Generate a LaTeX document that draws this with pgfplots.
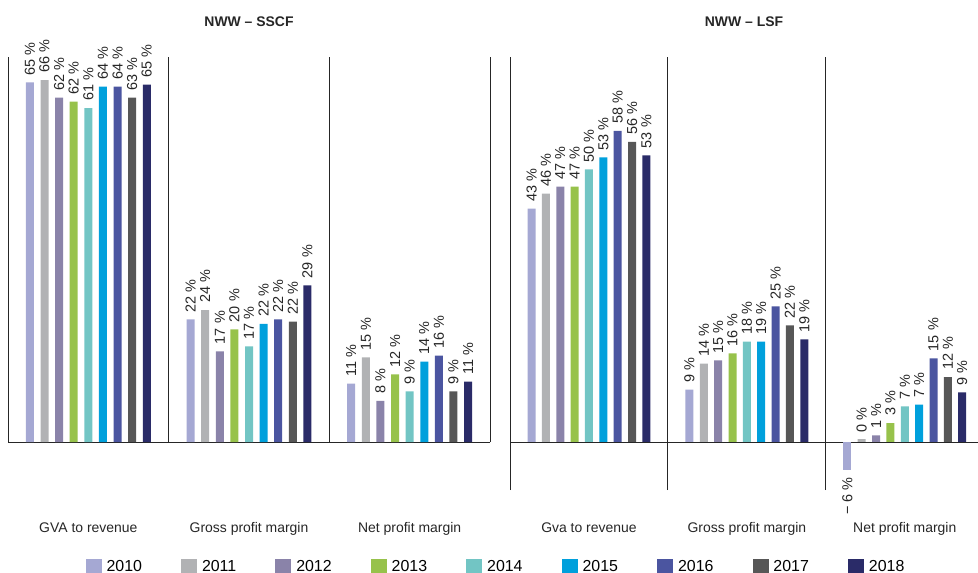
\documentclass[border=0pt]{standalone}
\usepackage{fontspec}
\setmainfont{Liberation Sans}
\usepackage{pgfplots}
\pgfplotsset{compat=1.18}

\definecolor{c2010}{HTML}{A5A8D3}
\definecolor{c2011}{HTML}{B1B2B4}
\definecolor{c2012}{HTML}{8A83A9}
\definecolor{c2013}{HTML}{97C24B}
\definecolor{c2014}{HTML}{72C5C4}
\definecolor{c2015}{HTML}{00A0DC}
\definecolor{c2016}{HTML}{4B55A0}
\definecolor{c2017}{HTML}{575757}
\definecolor{c2018}{HTML}{2A2B68}
\newcommand\vfont{\fontsize{14.5}{16}\selectfont}
\newcommand\tfont{\fontsize{14}{16}\selectfont}
\newcommand\lfont{\fontsize{16}{18}\selectfont}

\pgfplotsset{
  yr/.style={ybar, bar width=8bp, bar shift=0pt, fill=#1, draw=none,
    legend image code/.code={\fill[##1] (0bp,-8bp) rectangle (16bp,8bp);},
    every node near coord/.append style={rotate=90, anchor=west, font=\vfont,
      text=black!85, inner xsep=7bp, inner ysep=2pt}},
  panel/.style={scale only axis, anchor=south west, clip=false,
    axis line style={draw=none}, tick style={draw=none}, ytick=\empty,
    xtick={5.5,16.5,27.5},
    extra x ticks={0,11,22,33}, extra x tick labels={}, extra x tick style={grid=major},
    extra y ticks={0}, extra y tick labels={}, extra y tick style={grid=major},
    grid style={black!85, line width=0.9pt},
    tick label style={font=\tfont, text=black!85},
    title style={font=\tfont\bfseries, text=black!85},
    nodes near coords, point meta=explicit symbolic},
}

\begin{document}
\begin{tikzpicture}
\useasboundingbox (0,0) rectangle (978bp,573bp);
% NWW - SSCF
\begin{axis}[panel, at={(8bp,131bp)}, width=482bp, height=385bp,
  xmin=0, xmax=33, ymin=0, ymax=70,
  title={NWW – SSCF}, title style={yshift=21bp},
  xticklabels={GVA to revenue, Gross profit margin, Net profit margin},
  xticklabel style={yshift=-77bp},
  legend columns=9,
  legend style={at={(1.0124,-0.324)}, anchor=center, draw=none, fill=none, font=\lfont,
    /tikz/every odd column/.append style={column sep=3bp},
    /tikz/every even column/.append style={column sep=37bp}}]
\addplot[yr=c2010] coordinates {(1.5,65.4) [65 \%] (12.5,22.3) [22 \%] (23.5,10.6) [11 \%]};
\addlegendentry{2010}
\addplot[yr=c2011] coordinates {(2.5,65.8) [66 \%] (13.5,24.0) [24 \%] (24.5,15.4) [15 \%]};
\addlegendentry{2011}
\addplot[yr=c2012] coordinates {(3.5,62.6) [62 \%] (14.5,16.5) [17 \%] (25.5,7.5) [8 \%]};
\addlegendentry{2012}
\addplot[yr=c2013] coordinates {(4.5,61.9) [62 \%] (15.5,20.5) [20 \%] (26.5,12.3) [12 \%]};
\addlegendentry{2013}
\addplot[yr=c2014] coordinates {(5.5,60.7) [61 \%] (16.5,17.4) [17 \%] (27.5,9.2) [9 \%]};
\addlegendentry{2014}
\addplot[yr=c2015] coordinates {(6.5,64.6) [64 \%] (17.5,21.5) [22 \%] (28.5,14.6) [14 \%]};
\addlegendentry{2015}
\addplot[yr=c2016] coordinates {(7.5,64.6) [64 \%] (18.5,22.3) [22 \%] (29.5,15.7) [16 \%]};
\addlegendentry{2016}
\addplot[yr=c2017] coordinates {(8.5,62.6) [63 \%] (19.5,21.9) [22 \%] (30.5,9.2) [9 \%]};
\addlegendentry{2017}
\addplot[yr=c2018] coordinates {(9.5,65.0) [65 \%] (20.5,28.5) [29 \%] (31.5,11.0) [11 \%]};
\addlegendentry{2018}
\end{axis}

% NWW - LSF
\begin{axis}[panel, at={(510bp,83bp)}, width=468bp, height=433bp,
  xmin=0, xmax=32.6, ymin=-8.9, ymax=71.3,
  title={NWW – LSF}, title style={yshift=21bp},
  xticklabels={Gva to revenue, Gross profit margin, Net profit margin},
  xticklabel style={yshift=-29bp}]
\addplot[yr=c2010] coordinates {(1.5,43.2) [43 \%] (12.5,9.7) [9 \%]};
\addplot[yr=c2010, every node near coord/.append style={anchor=east}] coordinates {(23.5,-5.2) [− 6 \%]};
\addplot[yr=c2011] coordinates {(2.5,46.0) [46 \%] (13.5,14.5) [14 \%] (24.5,0.5) [0 \%]};
\addplot[yr=c2012] coordinates {(3.5,47.3) [47 \%] (14.5,15.1) [15 \%] (25.5,1.2) [1 \%]};
\addplot[yr=c2013] coordinates {(4.5,47.3) [47 \%] (15.5,16.4) [16 \%] (26.5,3.5) [3 \%]};
\addplot[yr=c2014] coordinates {(5.5,50.5) [50 \%] (16.5,18.6) [18 \%] (27.5,6.6) [7 \%]};
\addplot[yr=c2015] coordinates {(6.5,52.7) [53 \%] (17.5,18.6) [19 \%] (28.5,6.9) [7 \%]};
\addplot[yr=c2016] coordinates {(7.5,57.6) [58 \%] (18.5,25.1) [25 \%] (29.5,15.5) [15 \%]};
\addplot[yr=c2017] coordinates {(8.5,55.6) [56 \%] (19.5,21.6) [22 \%] (30.5,12.0) [12 \%]};
\addplot[yr=c2018] coordinates {(9.5,53.1) [53 \%] (20.5,19.0) [19 \%] (31.5,9.2) [9 \%]};
\end{axis}
\end{tikzpicture}
\end{document}
